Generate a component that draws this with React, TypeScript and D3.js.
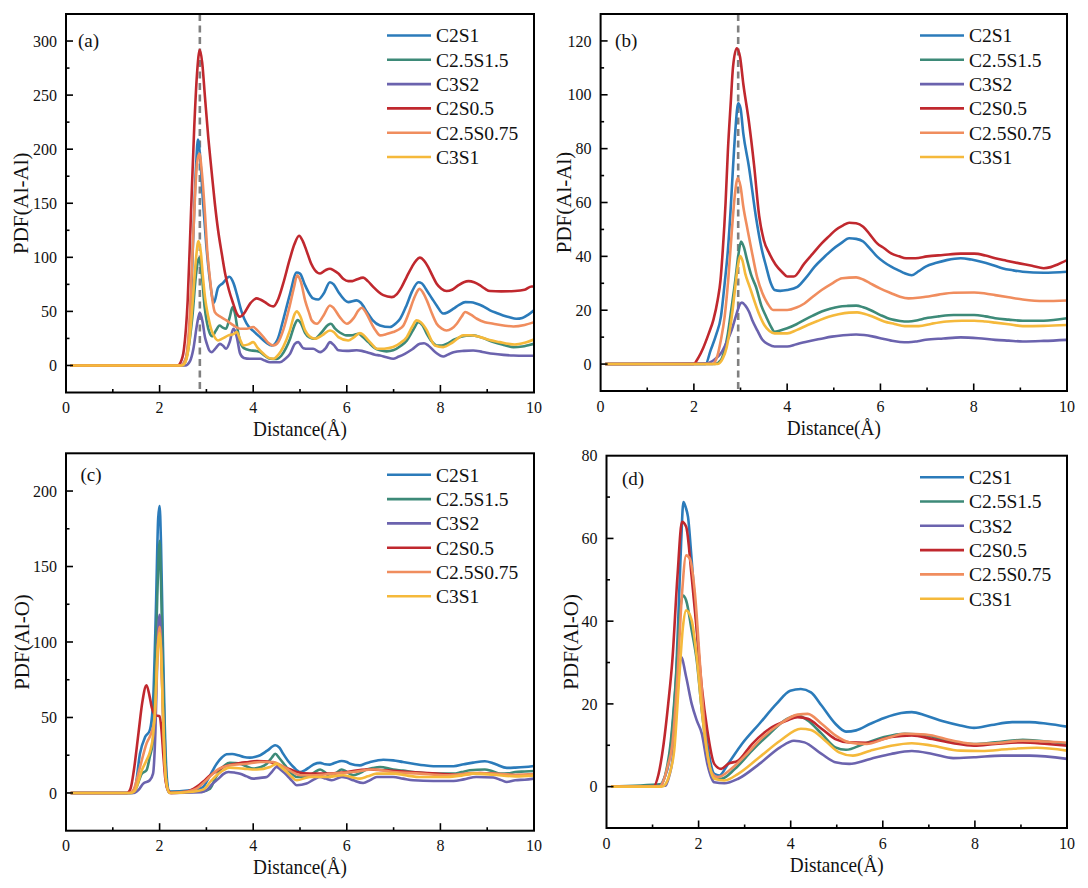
import * as d3 from "d3";
import { useEffect, useRef } from "react";

type Pt = [number, number];

const seriesNames = ["C2S1", "C2.5S1.5", "C3S2", "C2S0.5", "C2.5S0.75", "C3S1"];
const seriesColors = ["#2b7bba", "#3d8a78", "#6b63ae", "#c0282e", "#f08d5e", "#f5b93b"];
const xTicks = [0, 2, 4, 6, 8, 10];

// (a) PDF(Al-Al)
const aC2S1: Pt[] = [[0.1,0],[2.45,0],[2.55,5],[2.65,40],[2.72,120],[2.78,185],[2.82,209],[2.87,190],[2.93,150],[3.0,110],[3.07,80],[3.13,62],[3.16,58],[3.25,72],[3.35,76],[3.49,82],[3.58,76],[3.65,66],[3.75,50],[3.86,38.6],[4.0,32],[4.15,26],[4.28,21],[4.4,18.5],[4.52,24],[4.64,42],[4.78,65],[4.93,86],[5.0,85],[5.11,74],[5.28,62],[5.39,61],[5.5,66],[5.64,77],[5.72,75],[5.82,68],[6.03,58.6],[6.21,60.2],[6.3,58],[6.43,49.4],[6.55,42],[6.71,37],[6.92,35.5],[7.05,39],[7.14,43.2],[7.28,56],[7.39,68],[7.53,77],[7.6,76],[7.71,69.4],[7.82,62],[7.92,55.5],[8.06,48],[8.15,49],[8.28,52.5],[8.4,56],[8.53,58.6],[8.65,58.5],[8.78,57.1],[8.9,55],[9.06,51],[9.2,48.5],[9.34,46.3],[9.48,44.5],[9.62,43.2],[9.75,44],[9.88,47],[10,51]];
const aC25S15: Pt[] = [[0.1,0],[2.5,0],[2.6,12],[2.7,45],[2.78,85],[2.84,99],[2.9,85],[2.96,55],[3.01,40],[3.07,30],[3.12,27],[3.2,32],[3.28,37],[3.35,35],[3.42,34],[3.5,45],[3.56,54],[3.61,48],[3.66,35],[3.72,22],[3.8,16],[3.93,14],[4.05,13.5],[4.15,12.3],[4.25,9],[4.36,6.2],[4.5,6],[4.6,9],[4.7,16],[4.79,25],[4.89,38],[4.95,42],[5.02,39],[5.11,30],[5.2,26],[5.32,24.7],[5.45,30],[5.6,37.5],[5.66,38.6],[5.75,34],[5.85,30.5],[6.0,27.8],[6.12,28],[6.25,29.3],[6.35,26],[6.46,21.6],[6.6,16],[6.71,14],[6.85,13],[6.99,14],[7.15,18],[7.28,23],[7.42,33],[7.53,40],[7.62,37],[7.71,29.3],[7.82,22],[7.92,18.5],[8.03,18.5],[8.13,20],[8.3,24],[8.42,26.2],[8.55,27.5],[8.7,27.8],[8.9,25.5],[9.13,21.6],[9.35,19],[9.56,17],[9.75,17.5],[9.9,19],[10,20]];
const aC3S2: Pt[] = [[0.1,0],[2.55,0],[2.65,4],[2.72,15],[2.8,38],[2.86,49],[2.92,40],[2.97,26],[3.01,20],[3.06,14],[3.11,12.3],[3.2,16],[3.29,20],[3.36,18],[3.42,15.4],[3.5,22],[3.575,34],[3.62,31],[3.66,24],[3.72,11],[3.8,7],[3.93,6.2],[4.15,6.2],[4.25,4.5],[4.36,3],[4.57,3],[4.68,6],[4.79,11],[4.89,20],[4.96,21.6],[5.07,16],[5.18,15.4],[5.28,15.4],[5.43,12.3],[5.55,16],[5.64,21.6],[5.72,19],[5.82,14],[6.0,13.5],[6.21,14],[6.32,13.5],[6.43,12.3],[6.6,10],[6.71,9.2],[6.85,7.5],[6.99,6.2],[7.1,8],[7.24,10.8],[7.4,15],[7.56,20],[7.65,20.5],[7.74,18.5],[7.9,12],[8.06,8.3],[8.16,10],[8.28,12.3],[8.5,13.5],[8.7,13.9],[8.9,12.5],[9.13,10.8],[9.35,9.8],[9.56,9.2],[9.8,9],[10,9]];
const aC2S05: Pt[] = [[0.1,0],[2.38,0],[2.45,3],[2.52,15],[2.6,60],[2.67,140],[2.74,220],[2.8,270],[2.86,292],[2.91,280],[2.97,248],[3.04,211],[3.11,180],[3.18,150],[3.25,125],[3.33,103],[3.4,85],[3.48,70],[3.575,57],[3.65,48],[3.72,45],[3.8,48],[3.93,57],[4.07,62],[4.15,61],[4.25,58.6],[4.35,55.5],[4.43,54.6],[4.54,62],[4.64,75.6],[4.78,98],[4.88,112],[4.98,120],[5.06,115],[5.14,106],[5.24,94],[5.32,88],[5.43,85],[5.54,88],[5.64,89.5],[5.72,88],[5.82,85],[5.93,80],[6.03,78],[6.12,78],[6.21,79.5],[6.35,81.2],[6.45,78],[6.57,72.5],[6.68,68],[6.78,65],[6.96,63.2],[7.07,66],[7.17,72.5],[7.28,82],[7.39,91],[7.48,97],[7.56,99.7],[7.65,97],[7.74,91],[7.83,83],[7.92,75.6],[8.02,71],[8.13,68.8],[8.25,70],[8.38,74],[8.5,77],[8.6,78],[8.72,77],[8.85,74],[8.95,71],[9.06,68.8],[9.3,68.5],[9.59,68.8],[9.8,70],[9.95,73],[10,73]];
const aC25S075: Pt[] = [[0.1,0],[2.45,0],[2.55,5],[2.63,35],[2.7,100],[2.76,160],[2.8,187],[2.85,196],[2.9,180],[2.97,140],[3.02,105],[3.08,78.7],[3.13,60],[3.18,49.4],[3.3,45],[3.43,41.7],[3.58,37],[3.72,34],[3.86,34],[4.0,35.5],[4.1,32],[4.22,26.2],[4.32,21],[4.43,18.5],[4.54,22],[4.64,32.4],[4.78,55],[4.87,72],[4.94,83.3],[5.02,77],[5.11,60],[5.2,48],[5.25,41.7],[5.36,38.6],[5.5,46],[5.64,55.5],[5.72,53],[5.85,44.7],[6.0,38.6],[6.15,44],[6.25,51],[6.32,53.4],[6.42,48],[6.53,38.6],[6.62,32],[6.71,27.8],[6.85,29],[6.99,30.9],[7.1,33],[7.21,37],[7.32,48],[7.42,60.2],[7.5,68],[7.55,71],[7.62,68],[7.71,60.2],[7.82,48],[7.92,38.6],[8.03,34],[8.13,32.4],[8.24,34],[8.35,38.6],[8.45,45],[8.53,49.4],[8.65,47],[8.78,43.2],[8.95,40],[9.13,38.6],[9.35,37],[9.56,36.1],[9.8,37.5],[10,40]];
const aC3S1: Pt[] = [[0.1,0],[2.48,0],[2.56,4],[2.63,20],[2.7,55],[2.77,95],[2.83,115],[2.88,105],[2.93,80],[2.97,63],[3.04,45],[3.11,32.4],[3.18,26],[3.25,23.1],[3.35,25],[3.47,27.8],[3.58,29],[3.65,30.9],[3.72,24],[3.79,18.5],[3.9,19.5],[4.0,21.6],[4.1,16],[4.22,10.8],[4.33,7],[4.43,6.2],[4.54,10],[4.64,17],[4.78,32],[4.89,48],[4.93,50],[5.0,46],[5.11,32.4],[5.2,27],[5.32,24.7],[5.48,28],[5.64,32.4],[5.72,31],[5.82,26.2],[6.03,23.1],[6.15,26],[6.28,29.9],[6.36,28],[6.46,23.1],[6.55,19],[6.64,15.4],[6.8,15.5],[6.99,17],[7.15,21],[7.28,26.2],[7.4,36],[7.49,41.7],[7.58,40],[7.71,32.4],[7.8,24],[7.88,18.5],[8.06,17],[8.25,21],[8.49,27.8],[8.65,28],[8.85,26.2],[9.05,23.5],[9.27,21.6],[9.45,20],[9.59,19.4],[9.8,21],[10,24]];

// (b) PDF(Al-Al)
const bC2S1: Pt[] = [[0.1,0],[2.25,0],[2.36,5.2],[2.48,11],[2.58,17.6],[2.66,30],[2.73,42.4],[2.79,58],[2.84,73.3],[2.89,87],[2.95,96.8],[3.0,95],[3.06,85.6],[3.18,73.3],[3.33,54.7],[3.45,43],[3.55,36.2],[3.65,30],[3.73,27.5],[3.85,27.2],[4.0,27.5],[4.22,28.7],[4.4,32],[4.59,36.2],[4.78,39.5],[4.96,42.4],[5.15,44.8],[5.33,46.7],[5.48,46.5],[5.63,45.5],[5.78,42.8],[5.93,39.9],[6.08,37.8],[6.23,36.2],[6.4,34.7],[6.52,33.7],[6.67,33],[6.82,34.5],[6.97,36.2],[7.2,37.6],[7.42,38.6],[7.72,39.3],[7.95,38.8],[8.16,38],[8.4,36.8],[8.61,35.6],[8.85,34.8],[9.05,34.3],[9.5,33.9],[10,34.3]];
const bC25S15: Pt[] = [[0.1,0],[2.45,0],[2.58,1.5],[2.66,5.5],[2.73,11.4],[2.8,20],[2.88,30],[2.95,40],[3.01,45.5],[3.07,43.5],[3.14,38.7],[3.23,33],[3.33,28.7],[3.45,21.5],[3.55,17.6],[3.65,14],[3.73,12],[3.85,12.5],[4.0,13.3],[4.2,14.8],[4.37,16.4],[4.55,18],[4.74,19.5],[4.92,20.5],[5.11,21.3],[5.3,21.6],[5.48,21.7],[5.63,21.1],[5.78,20.1],[6.0,18.2],[6.23,16.6],[6.42,16],[6.6,15.8],[6.8,16.3],[6.97,17],[7.25,17.7],[7.57,18.2],[8.01,18.2],[8.25,17.7],[8.46,17],[8.75,16.5],[9.05,16.1],[9.5,16.1],[10,17]];
const bC3S2: Pt[] = [[0.1,0],[2.28,0.3],[2.45,1.8],[2.58,4],[2.7,8],[2.81,12.6],[2.92,18.9],[2.98,22],[3.03,22.8],[3.1,21.8],[3.18,19.5],[3.25,16.4],[3.36,12.5],[3.47,9],[3.6,7.3],[3.73,6.5],[4.0,6.5],[4.2,7.4],[4.44,8.4],[4.7,9.3],[4.96,10.2],[5.2,10.7],[5.48,11],[5.65,10.8],[5.85,10.2],[6.05,9.4],[6.23,8.7],[6.42,8.2],[6.6,8.1],[6.8,8.5],[6.97,9],[7.35,9.5],[7.72,9.9],[8.1,9.6],[8.46,9],[8.75,8.7],[9.05,8.4],[9.5,8.6],[10,9]];
const bC2S05: Pt[] = [[0.1,0],[1.99,0],[2.1,2.5],[2.2,6],[2.32,11.4],[2.42,16.5],[2.51,23.8],[2.57,31],[2.62,42.4],[2.68,60],[2.73,79.5],[2.79,97],[2.84,110.5],[2.92,117.3],[2.99,114],[3.06,104],[3.18,90],[3.29,74],[3.4,55],[3.5,46],[3.62,41],[3.75,37],[3.9,34],[4.0,32.5],[4.14,32.5],[4.37,37.4],[4.55,41],[4.74,44.8],[4.9,47.5],[5.04,49.8],[5.2,51.5],[5.33,52.5],[5.48,52.3],[5.63,51],[5.78,48],[5.93,44.8],[6.08,43],[6.23,41.1],[6.4,40],[6.55,39.3],[6.75,39.3],[7.0,40],[7.34,40.5],[7.72,41],[8.01,41],[8.25,40.3],[8.46,39.3],[8.7,38.4],[8.98,37.4],[9.25,36.5],[9.5,35.6],[9.65,36],[9.8,37],[10,38.6]];
const bC25S075: Pt[] = [[0.1,0],[2.4,0],[2.51,3.4],[2.58,9],[2.66,17.6],[2.74,32],[2.81,48.5],[2.88,63],[2.94,69],[3.0,66],[3.06,58.4],[3.15,50],[3.25,41.1],[3.36,32],[3.47,26.3],[3.58,22.5],[3.7,20.1],[4.0,20.1],[4.2,21],[4.37,22.5],[4.55,25],[4.74,27.5],[4.95,29.8],[5.18,31.9],[5.48,32.2],[5.63,31.4],[5.78,30],[6.0,28],[6.23,26.3],[6.42,25],[6.6,24.4],[6.8,24.6],[6.97,25],[7.25,25.8],[7.57,26.5],[8.01,26.6],[8.25,26.2],[8.46,25.6],[8.75,24.8],[9.05,24],[9.5,23.4],[10,23.6]];
const bC3S1: Pt[] = [[0.1,0],[2.5,0],[2.62,2.1],[2.7,6],[2.77,12.6],[2.83,20],[2.88,27.5],[2.94,36],[2.99,40.1],[3.04,38.5],[3.1,33.7],[3.2,28.5],[3.29,23.8],[3.4,18.5],[3.51,14.5],[3.62,12.3],[3.73,11.4],[4.0,11.4],[4.2,12.6],[4.44,14.5],[4.65,16],[4.89,17.6],[5.1,18.5],[5.33,19.1],[5.5,19.2],[5.63,18.8],[5.85,17.5],[6.08,15.8],[6.3,14.9],[6.52,14.1],[6.82,14.1],[7.1,15],[7.42,15.8],[7.75,16.1],[8.01,16.1],[8.25,15.8],[8.46,15.4],[8.75,14.8],[9.05,14.1],[9.5,14.2],[10,14.5]];

// (c) PDF(Al-O)
const cC2S1: Pt[] = [[0.1,0],[1.38,0],[1.48,4],[1.58,26],[1.69,37],[1.79,41.5],[1.86,60],[1.92,120],[1.97,182],[2.0,190],[2.03,165],[2.07,100],[2.11,45],[2.15,12],[2.2,1],[2.65,1.8],[2.8,2.5],[2.93,4],[3.05,10],[3.22,19.4],[3.33,23.5],[3.43,25.6],[3.55,25.8],[3.68,25],[3.8,23.8],[3.93,23.4],[4.05,24],[4.15,25],[4.3,28],[4.47,31.6],[4.56,30],[4.64,26],[4.75,21],[4.86,17.2],[5.0,13.9],[5.1,15],[5.21,17.2],[5.3,19],[5.43,19.9],[5.54,19],[5.64,18.8],[5.75,20],[5.89,21.2],[6.0,20.5],[6.07,19.4],[6.28,18.3],[6.4,19.5],[6.5,20.5],[6.65,21.5],[6.78,22],[6.99,21.6],[7.2,20.5],[7.42,19.4],[7.65,18.3],[7.85,17.7],[8.28,17.7],[8.5,19],[8.7,20.1],[8.95,21],[9.1,20],[9.2,18.8],[9.42,16.6],[9.6,16.8],[9.8,17.2],[10,17.9]];
const cC25S15: Pt[] = [[0.1,0],[1.42,0],[1.51,4],[1.62,12.8],[1.72,15],[1.79,23.8],[1.86,35],[1.9,70],[1.95,130],[2.0,167],[2.03,140],[2.07,80],[2.11,35],[2.15,8],[2.2,0.5],[2.9,1],[3.08,2.9],[3.18,9],[3.29,15],[3.4,18.5],[3.5,19.9],[3.6,19.8],[3.72,19.4],[3.86,17.5],[4.0,16.1],[4.15,17],[4.29,19.4],[4.4,23.5],[4.47,26],[4.56,23],[4.68,18.3],[4.8,13.5],[4.93,10.6],[5.14,10.6],[5.3,13.5],[5.43,15.5],[5.54,13.5],[5.64,10.6],[5.78,13.5],[5.89,15.5],[6.0,14],[6.14,11.7],[6.3,13.5],[6.42,15.5],[6.55,16.5],[6.71,17.2],[6.99,15.5],[7.2,14.8],[7.42,13.9],[7.85,12.8],[8.28,12.8],[8.45,13.8],[8.63,15],[8.95,15.5],[9.1,14.5],[9.28,12.8],[9.45,13],[9.6,13.9],[9.8,14.2],[10,14.5]];
const cC3S2: Pt[] = [[0.1,0],[1.45,0],[1.55,2],[1.65,6.2],[1.79,8.4],[1.86,12.8],[1.91,40],[1.96,100],[2.0,118],[2.03,100],[2.07,55],[2.11,20],[2.16,3],[2.22,0],[2.9,0.5],[3.0,1.8],[3.13,6],[3.26,9.5],[3.36,12.5],[3.47,13.9],[3.6,13.5],[3.72,12.8],[3.86,11],[4.0,9.5],[4.15,10],[4.29,10.6],[4.4,14],[4.5,17.2],[4.6,15],[4.72,11.7],[4.83,8],[4.93,5.1],[5.14,6.2],[5.3,9],[5.43,10.6],[5.55,9.5],[5.68,8.4],[5.89,10.6],[6.0,10],[6.14,8.4],[6.35,6.6],[6.5,8.5],[6.64,10.6],[6.99,10.6],[7.2,9.5],[7.42,8.4],[7.85,7.9],[8.28,7.9],[8.5,9],[8.77,10.6],[9.13,10.2],[9.3,8.5],[9.42,7.3],[9.6,8.4],[9.8,8.8],[10,9.5]];
const cC2S05: Pt[] = [[0.1,0],[1.3,0],[1.38,3],[1.45,15],[1.55,40],[1.63,60],[1.72,71.3],[1.78,65],[1.83,57],[1.88,52.5],[1.92,51.4],[2.0,50.8],[2.04,42],[2.08,25],[2.12,10],[2.18,2],[2.25,0],[2.6,1],[2.79,4],[2.95,8],[3.08,11.7],[3.22,14.5],[3.36,17.2],[3.54,18.8],[3.72,19.9],[3.9,20.5],[4.08,21.2],[4.22,21],[4.36,20.5],[4.5,19],[4.64,17.2],[4.8,15.5],[4.93,13.9],[5.21,12.8],[5.57,12.8],[6.0,13.9],[6.42,15.5],[6.85,15],[7.35,13.9],[7.92,12.8],[8.42,12.1],[8.85,13.2],[9.2,12.6],[9.6,11.7],[10,11.5]];
const cC25S075: Pt[] = [[0.1,0],[1.35,0],[1.44,2],[1.58,17],[1.72,32.7],[1.83,40.4],[1.9,50],[1.95,90],[2.0,110],[2.03,95],[2.07,55],[2.11,20],[2.16,4],[2.22,0],[2.6,1],[2.79,2.9],[3.0,8.5],[3.22,15],[3.5,18.3],[3.86,19.4],[4.15,20.5],[4.43,20.5],[4.58,18.5],[4.72,16.1],[4.86,13.5],[5.0,11.7],[5.28,11.7],[5.71,12.8],[6.14,13.9],[6.57,15.5],[6.99,13.9],[7.56,12.8],[8.13,11.7],[8.7,13.2],[9.13,12.8],[9.6,12.1],[10,12.5]];
const cC3S1: Pt[] = [[0.1,0],[1.4,0],[1.48,1.8],[1.62,15],[1.72,21.6],[1.8,28],[1.86,38],[1.91,60],[1.96,95],[2.0,106],[2.03,95],[2.07,55],[2.11,20],[2.16,4],[2.22,0],[2.7,0.8],[2.93,2.2],[3.1,8],[3.26,12.8],[3.5,16.8],[3.79,16.1],[4.08,15.5],[4.36,17.2],[4.5,19.4],[4.6,17],[4.72,13.9],[4.83,10.5],[4.93,8.4],[5.21,10.6],[5.57,10.6],[5.92,11.7],[6.1,10.5],[6.28,9.5],[6.45,11],[6.64,12.8],[6.99,12.8],[7.3,11.5],[7.56,10.6],[8.13,10.6],[8.45,11.5],[8.7,12.8],[9.13,12.1],[9.6,11],[10,11.5]];

// (d) PDF(Al-O)
const dC2S1: Pt[] = [[0.1,0],[1.13,0],[1.25,2],[1.36,6.3],[1.44,15],[1.51,26.5],[1.57,44],[1.62,58.8],[1.67,68.8],[1.72,67.5],[1.77,65.2],[1.85,54.7],[1.96,38.6],[2.07,21.6],[2.19,10.3],[2.34,3.1],[2.45,2.7],[2.64,5.5],[2.94,10.3],[3.32,15.2],[3.69,20],[3.99,23.2],[4.22,23.6],[4.44,22.8],[4.67,19.6],[4.97,15.2],[5.2,13.3],[5.42,13.6],[5.73,15.2],[6.03,16.6],[6.4,17.8],[6.63,18],[6.93,17.2],[7.31,15.8],[7.68,14.8],[7.98,14.2],[8.36,14.9],[8.81,15.6],[9.19,15.6],[9.57,15.2],[10,14.5]];
const dC25S15: Pt[] = [[0.1,0],[1.2,0.6],[1.3,4],[1.39,10.3],[1.51,26.5],[1.6,42.6],[1.66,46.2],[1.73,45],[1.85,37.8],[1.96,30.5],[2.07,18.4],[2.19,7.9],[2.34,1.9],[2.49,1.9],[2.79,4.3],[3.16,8.7],[3.54,12.8],[3.92,16.4],[4.15,17.2],[4.37,16],[4.67,12.8],[4.97,9.5],[5.2,8.9],[5.58,10.3],[6.03,12],[6.48,12.8],[6.93,12.4],[7.46,10.9],[7.98,10.3],[8.44,10.7],[9.04,11.3],[9.57,10.9],[10,10.3]];
const dC3S2: Pt[] = [[0.1,0],[1.28,0.2],[1.36,2.5],[1.43,6.3],[1.49,14],[1.54,22.4],[1.62,31.3],[1.73,26.5],[1.85,20],[1.96,16],[2.07,12.8],[2.19,5.5],[2.34,1.05],[2.56,0.8],[2.86,1.9],[3.32,5.5],[3.77,9.5],[4.07,11.1],[4.3,10.7],[4.67,7.9],[4.97,5.9],[5.27,5.5],[5.73,6.7],[6.18,7.9],[6.63,8.6],[7.08,7.9],[7.53,6.9],[7.98,7.1],[8.59,7.5],[9.19,7.5],[10,6.7]];
const dC2S05: Pt[] = [[0.1,0],[1.02,0],[1.13,3],[1.24,10.3],[1.34,20],[1.43,30.5],[1.54,50.7],[1.64,64],[1.73,62.8],[1.85,50.7],[1.96,37.8],[2.07,24],[2.19,13.6],[2.34,5.5],[2.49,4.3],[2.64,5.5],[2.86,6.3],[3.16,10.3],[3.54,14],[3.92,16],[4.15,16.8],[4.37,16.4],[4.67,14],[4.97,11.5],[5.27,10.7],[5.65,10.6],[6.18,12],[6.63,12.4],[7.08,11.5],[7.53,10.5],[7.98,9.9],[8.44,10.3],[9.04,10.7],[9.57,10.3],[10,9.9]];
const dC25S075: Pt[] = [[0.1,0],[1.15,0],[1.24,1.5],[1.33,5],[1.43,10.3],[1.54,26.5],[1.64,46.7],[1.73,55.9],[1.81,55.1],[1.92,46.7],[2.04,28.1],[2.15,11.9],[2.3,3.1],[2.41,2.3],[2.71,4.3],[3.01,7.5],[3.39,11.9],[3.77,15.2],[4.15,17.4],[4.37,17.6],[4.67,15.2],[4.97,12.4],[5.27,10.7],[5.65,10.3],[6.03,11.5],[6.48,12.8],[6.93,12.6],[7.53,11.1],[7.98,10.3],[8.44,10.5],[9.04,11.1],[9.57,10.9],[10,10.6]];
const dC3S1: Pt[] = [[0.1,0],[1.2,0],[1.28,0.6],[1.38,3.5],[1.47,8.7],[1.58,26.5],[1.66,38.6],[1.73,42.6],[1.85,40.2],[1.96,31.3],[2.07,18.4],[2.19,7.9],[2.34,1.9],[2.56,1.5],[2.86,3.1],[3.32,7.1],[3.77,11.1],[4.22,14],[4.44,13.7],[4.75,11.1],[5.05,8.3],[5.35,7.5],[5.73,8.7],[6.18,9.9],[6.63,10.5],[7.08,9.9],[7.68,8.7],[8.14,8.6],[8.74,9.1],[9.34,9.4],[10,8.7]];

// reference lines (Å)
const dashA = 2.86;
const dashB = 2.95;

const panels = [
  { label: "(a)", yTitle: "PDF(Al-Al)", yDomain: [-25, 325], yStep: 50, series: [aC2S1, aC25S15, aC3S2, aC2S05, aC25S075, aC3S1], dash: dashA,
    box: { l: 66, r: 534, t: 14, b: 392.5 }, labelPos: [12, 32.5], titleOff: 45 },
  { label: "(b)", yTitle: "PDF(Al-Al)", yDomain: [-10, 130], yStep: 20, series: [bC2S1, bC25S15, bC3S2, bC2S05, bC25S075, bC3S1], dash: dashB,
    box: { l: 600.6, r: 1067, t: 14, b: 391 }, labelPos: [14.5, 32.5], titleOff: 37 },
  { label: "(c)", yTitle: "PDF(Al-O)", yDomain: [-25, 225], yStep: 50, series: [cC2S1, cC25S15, cC3S2, cC2S05, cC25S075, cC3S1], dash: null,
    box: { l: 66, r: 534, t: 453.3, b: 830.7 }, labelPos: [14.5, 28], titleOff: 44.5 },
  { label: "(d)", yTitle: "PDF(Al-O)", yDomain: [-10, 80], yStep: 20, series: [dC2S1, dC25S15, dC3S2, dC2S05, dC25S075, dC3S1], dash: null,
    box: { l: 606.5, r: 1067, t: 455.7, b: 828 }, labelPos: [15.5, 29], titleOff: 36 },
];

const FONT = "'Liberation Serif', 'Times New Roman', serif";

export default function App() {
  const svgRef = useRef<SVGSVGElement>(null);

  useEffect(() => {
    if (!svgRef.current) return;
    const svg = d3.select(svgRef.current);
    svg.selectAll("*").remove();
    svg.append("rect").attr("width", 1088).attr("height", 888).attr("fill", "#fff");

    for (const p of panels) {
      const { l, r, t, b } = p.box;
      const x = d3.scaleLinear().domain([0, 10]).range([l, r]);
      const y = d3.scaleLinear().domain(p.yDomain).range([b, t]);
      const g = svg.append("g").attr("font-family", FONT);

      const clipId = `clip-${p.label.replace(/\W/g, "")}`;
      g.append("clipPath").attr("id", clipId)
        .append("rect").attr("x", l).attr("y", t).attr("width", r - l).attr("height", b - t);

      // dashed reference line
      if (p.dash != null) {
        g.append("line")
          .attr("x1", x(p.dash)).attr("x2", x(p.dash))
          .attr("y1", t).attr("y2", b)
          .attr("stroke", "#808080").attr("stroke-width", 2.6)
          .attr("stroke-dasharray", "7,4.5");
      }

      const line = d3.line<Pt>()
        .x((d) => x(d[0]))
        .y((d) => y(d[1]))
        .curve(d3.curveMonotoneX);

      const lg = g.append("g").attr("clip-path", `url(#${clipId})`);
      p.series.forEach((s, i) => {
        lg.append("path")
          .attr("d", line(s) ?? "")
          .attr("fill", "none")
          .attr("stroke", seriesColors[i])
          .attr("stroke-width", 2.6)
          .attr("stroke-linejoin", "round");
      });

      // frame
      g.append("rect")
        .attr("x", l).attr("y", t).attr("width", r - l).attr("height", b - t)
        .attr("fill", "none").attr("stroke", "#000").attr("stroke-width", 2);

      // x ticks (inward)
      for (let v = 1; v < 10; v++) {
        const major = v % 2 === 0;
        g.append("line")
          .attr("x1", x(v)).attr("x2", x(v))
          .attr("y1", b).attr("y2", b - (major ? 7.5 : 3.5))
          .attr("stroke", "#000").attr("stroke-width", 1.6);
      }
      xTicks.forEach((v) => {
        g.append("text")
          .attr("x", x(v)).attr("y", b + 20.5)
          .attr("text-anchor", "middle")
          .attr("font-size", 16).attr("fill", "#111")
          .text(String(v));
      });

      // y ticks (inward)
      const [y0, y1] = p.yDomain;
      const half = p.yStep / 2;
      for (let v = y0 + half; v <= y1; v += half) {
        const major = v % p.yStep === 0;
        if (v < y1) {
          g.append("line")
            .attr("x1", l).attr("x2", l + (major ? 7 : 3.5))
            .attr("y1", y(v)).attr("y2", y(v))
            .attr("stroke", "#000").attr("stroke-width", 1.6);
        }
        if (major) {
          g.append("text")
            .attr("x", l - 9).attr("y", y(v))
            .attr("dy", "0.35em")
            .attr("text-anchor", "end")
            .attr("font-size", 16).attr("fill", "#111")
            .text(String(v));
        }
      }

      // axis titles
      g.append("text")
        .attr("x", (l + r) / 2).attr("y", b + 43.5)
        .attr("text-anchor", "middle")
        .attr("font-size", 21).attr("fill", "#111")
        .attr("textLength", 94).attr("lengthAdjust", "spacingAndGlyphs")
        .text("Distance(Å)");
      g.append("text")
        .attr("transform", `translate(${l - p.titleOff},${(t + b) / 2}) rotate(-90)`)
        .attr("dy", "0.35em")
        .attr("text-anchor", "middle")
        .attr("font-size", 21).attr("fill", "#111")
        .text(p.yTitle);

      // panel label
      g.append("text")
        .attr("x", l + p.labelPos[0]).attr("y", t + p.labelPos[1])
        .attr("font-size", 19).attr("fill", "#111")
        .text(p.label);

      // legend
      seriesNames.forEach((name, i) => {
        const ly = t + 21.5 + i * 24.3;
        g.append("line")
          .attr("x1", r - 147).attr("x2", r - 103)
          .attr("y1", ly).attr("y2", ly)
          .attr("stroke", seriesColors[i]).attr("stroke-width", 2.6);
        g.append("text")
          .attr("x", r - 98).attr("y", ly)
          .attr("dy", "0.35em")
          .attr("font-size", 19.5).attr("fill", "#111")
          .text(name);
      });
    }
  }, []);

  return (
    <svg
      ref={svgRef}
      width={1088}
      height={888}
      style={{ position: "absolute", left: 0, top: 0 }}
    />
  );
}
